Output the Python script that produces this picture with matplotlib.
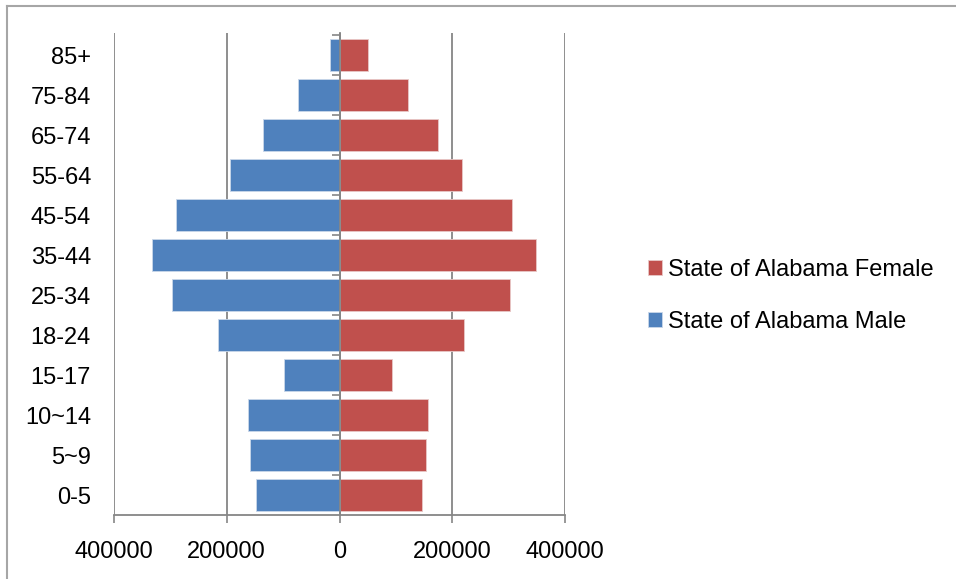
import matplotlib.pyplot as plt
import matplotlib.transforms as mtransforms
from matplotlib.lines import Line2D
from matplotlib.ticker import FuncFormatter, FixedLocator
import numpy as np

age_groups = ["0-5", "5~9", "10~14", "15-17", "18-24", "25-34",
              "35-44", "45-54", "55-64", "65-74", "75-84", "85+"]
male = [148000, 158500, 162000, 98000, 215000, 297000,
        332500, 289500, 193500, 136500, 73000, 16500]
female = [146500, 154000, 157500, 93500, 221000, 303000,
          348500, 306500, 217000, 175000, 121500, 50500]
x_ticks = [-400000, -200000, 0, 200000, 400000]

blue = "#4F81BD"
red = "#C0504D"
gray = "#868686"

plt.rcParams["font.family"] = ["Liberation Sans", "DejaVu Sans"]

fig = plt.figure(figsize=(9.56, 5.79), dpi=100)
ax = fig.add_axes([114 / 956, 64 / 579, 451 / 956, 482 / 579])

y = np.arange(len(age_groups))
ax.barh(y, female, height=0.8, color=red, edgecolor="#e8c8c7", linewidth=0.6,
        label="State of Alabama Female", zorder=2)
ax.barh(y, -np.array(male), height=0.8, color=blue, edgecolor="#c9d7ea", linewidth=0.6,
        label="State of Alabama Male", zorder=2)

ax.set_xlim(-400000, 400000)
ax.set_ylim(-0.5, len(age_groups) - 0.45)
ax.set_xticks(x_ticks)
ax.xaxis.set_major_formatter(FuncFormatter(lambda v, p: f"{abs(int(v))}"))
ax.tick_params(axis="x", direction="out", length=6, width=1.2, color=gray,
               labelsize=17, pad=13, labelcolor="#000000")
ax.grid(axis="x", color=gray, linewidth=1.3, zorder=0)

# vertical axis sits at zero with small ticks between categories
for s in ["top", "right"]:
    ax.spines[s].set_visible(False)
ax.spines["left"].set_position(("data", 0))
ax.spines["left"].set_color(gray)
ax.spines["left"].set_linewidth(1.3)
ax.spines["left"].set_zorder(3)
ax.spines["bottom"].set_color(gray)
ax.spines["bottom"].set_linewidth(1.3)
ax.set_yticks([])
ax.yaxis.set_minor_locator(FixedLocator(np.arange(len(age_groups)) + 0.5))
ax.tick_params(axis="y", which="minor", direction="out", length=6, width=1.2, color=gray)

trans = mtransforms.blended_transform_factory(ax.transAxes, ax.transData)
for yi, lab in zip(y, age_groups):
    ax.text(-0.051, yi, lab, transform=trans, ha="right", va="center_baseline", fontsize=17)

fig.legend(loc="center left", bbox_to_anchor=(648 / 956, 1 - 296 / 579),
           frameon=False, fontsize=17, borderpad=0, borderaxespad=0,
           handlelength=0.6, handleheight=0.6, handletextpad=0.25, labelspacing=1.25)

# outer chart border
fig.add_artist(Line2D([7 / 956, 7 / 956], [0, 1 - 6 / 579], color="#a6a6a6", lw=1.5))
fig.add_artist(Line2D([7 / 956, 1], [1 - 6 / 579, 1 - 6 / 579], color="#a6a6a6", lw=1.5))

fig.savefig("out.png", dpi=100)
